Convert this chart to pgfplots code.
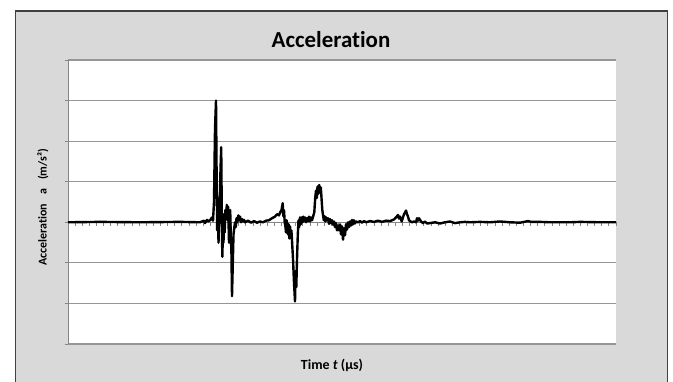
\documentclass[border=0pt]{standalone}
\usepackage{pgfplots}
\pgfplotsset{compat=1.18}
\usepackage{fontspec}
\setmainfont{Carlito}[Ligatures=NoCommon]
\definecolor{bggray}{RGB}{217,217,217}
\definecolor{framegray}{RGB}{64,64,64}
\definecolor{gridgray}{RGB}{150,150,150}
\definecolor{axgray}{RGB}{134,134,134}
\begin{document}
\begin{tikzpicture}[x=1bp,y=1bp]
\useasboundingbox (0,0) rectangle (673,381);
\fill[white] (0,0) rectangle (673,381);
\filldraw[fill=bggray,draw=framegray,line width=1.2bp] (15.5,-10) rectangle (667.5,370);
\fill[white] (68,37) rectangle (616,321);
\begin{axis}[
  at={(68bp,37bp)}, anchor=south west,
  scale only axis, width=548bp, height=284bp,
  xmin=0, xmax=548, ymin=-3, ymax=4,
  axis x line*=middle, axis y line*=left,
  x axis line style={draw=axgray, line width=1bp, -},
  y axis line style={draw=axgray, line width=1bp, -},
  xtick={0,7.117,...,548}, xticklabels={},
  ytick={-3,-2,...,4}, yticklabels={},
  xtick align=outside, ytick align=outside,
  major tick length=3.5bp,
  every tick/.style={draw=axgray, line width=0.9bp},
  ymajorgrids, grid style={draw=gridgray, line width=1.1bp},
  clip=false,
]
\addplot[black, line width=2.4bp, line join=round] coordinates {
(0,0) (32,0.01) (72,0) (112,0.01) (132,0) (136,0.04) (137,-0.02) (139,0.06) (140,0.02) (142,0.05) (144,0.12) (145,0.04)
(146,0.5) (147,2.3) (148,3.0) (148.6,1.2) (149.2,-0.2) (149.7,0.6) (150.5,-0.5) (151.2,0.1) (151.8,0.5) (152.5,1.3)
(153.2,1.85) (153.8,0.2) (154.3,-0.85) (155,-0.2) (155.5,-0.5) (156,0.2) (156.7,-0.25) (157.3,0.3) (158,0.1) (158.8,0.43)
(159.5,0.05) (160.2,0.38) (161,-0.5) (161.6,0.1) (162.2,0.3) (162.8,-0.4) (163.4,-0.7) (164,-1.82) (164.8,-1.0) (165.5,-0.3)
(166.2,-0.15) (167,0.0) (167.8,-0.12) (168.5,0.1) (169.3,0.0) (170.3,0.17) (171.2,0.05) (172,0.14) (173,0.0) (174,0.08) (175,0.02) (176,0.06) (177,0.0)
(180,0.04) (183,-0.01) (186,0.03) (189,-0.01) (192,0.02) (195,0.0) (198,0.04) (201,0.05) (204,0.1) (207,0.14) (209,0.2) (211,0.17) (212,0.24)
(213.5,0.3) (214.7,0.47) (215.3,0.15) (216,0.3) (216.7,0.0) (217.4,-0.1) (218,-0.25) (218.7,0.05) (219.4,-0.15) (220,-0.3)
(220.6,-0.05) (221.3,-0.4) (222,-0.1) (222.7,-0.35) (223.4,-0.2) (224,-0.45) (225,-0.9) (226,-1.5) (227,-1.95) (227.6,-1.2) (228.3,-1.6)
(229,-0.9) (229.8,-0.3) (230.5,0.05) (231.2,-0.12) (232,0.12) (232.8,-0.05) (233.6,0.12) (234.4,0.0) (235.2,0.14) (236,0.03) (237,0.12)
(238,0.0) (239,0.1) (240,0.03) (241,0.14) (242,0.02) (243,0.12) (244,0.05) (245.2,0.15) (246.3,0.25) (247.2,0.6) (248,0.78) (248.8,0.6) (249.5,0.88) (250.3,0.7)
(251.2,0.92) (252,0.75) (252.8,0.86) (253.5,0.6) (254.3,0.3) (255,0.18) (255.8,0.05) (256.6,0.15) (257.4,0.02) (258.2,0.12) (259,0.05) (260,0.1) (261,-0.04)
(262,0.08) (263,-0.02) (264,0.05) (265,-0.06) (266,0.02) (267,-0.12) (268,-0.02) (269,-0.2) (270,-0.08) (271,-0.2) (272,-0.05) (273,-0.3) (274,-0.1) (275,-0.43)
(276,-0.15) (277,-0.32) (278,-0.05) (279,-0.18) (280,0.0) (281,-0.12) (282,0.02) (283,-0.08) (284,0.06) (285,-0.05) (286,0.05) (287,-0.03) (288,0.02)
(290,0.0) (292,0.03) (294,-0.01) (296,0.03) (298,0.0) (302,0.03) (306,0.01) (310,0.04) (314,0.01) (318,0.04)
(322,0.03) (326,0.07) (328,0.12) (330,0.18) (331,0.09) (332,0.14) (333.7,0.02) (335,0.12) (336,0.2) (337,0.24) (338,0.29) (339,0.2) (340,0.14)
(341,0.05) (342,0.03) (344,0.0) (346,0.02) (348,0.0) (349,0.1) (350,0.04) (351,0.1) (353,0.02) (355,-0.02) (357,0.02) (359,-0.03) (362,-0.02)
(367,0.0) (372,-0.03) (377,0.0) (382,0.02) (387,-0.02) (392,0.0) (397,0.01) (402,0.0) (412,0.01) (422,0.0) (432,0.02) (442,0.0)
(452,-0.01) (460,0.03) (463,0.01) (472,0.01) (482,0.0) (502,0.0) (512,0.01) (532,0.0) (548,0.0)
};
\end{axis}
\node[font=\bfseries\fontsize{23}{26}\selectfont] at (331,341) {Acceleration};
\node[font=\bfseries\fontsize{14}{16}\selectfont] at (332,16) {Time \textit{t} (µs)};
\node[font=\bfseries\fontsize{12}{14}\selectfont, rotate=90] at (43,173.5) {Acceleration\hspace{9bp}a\hspace{9bp}(m/s²)};
\end{tikzpicture}
\end{document}
